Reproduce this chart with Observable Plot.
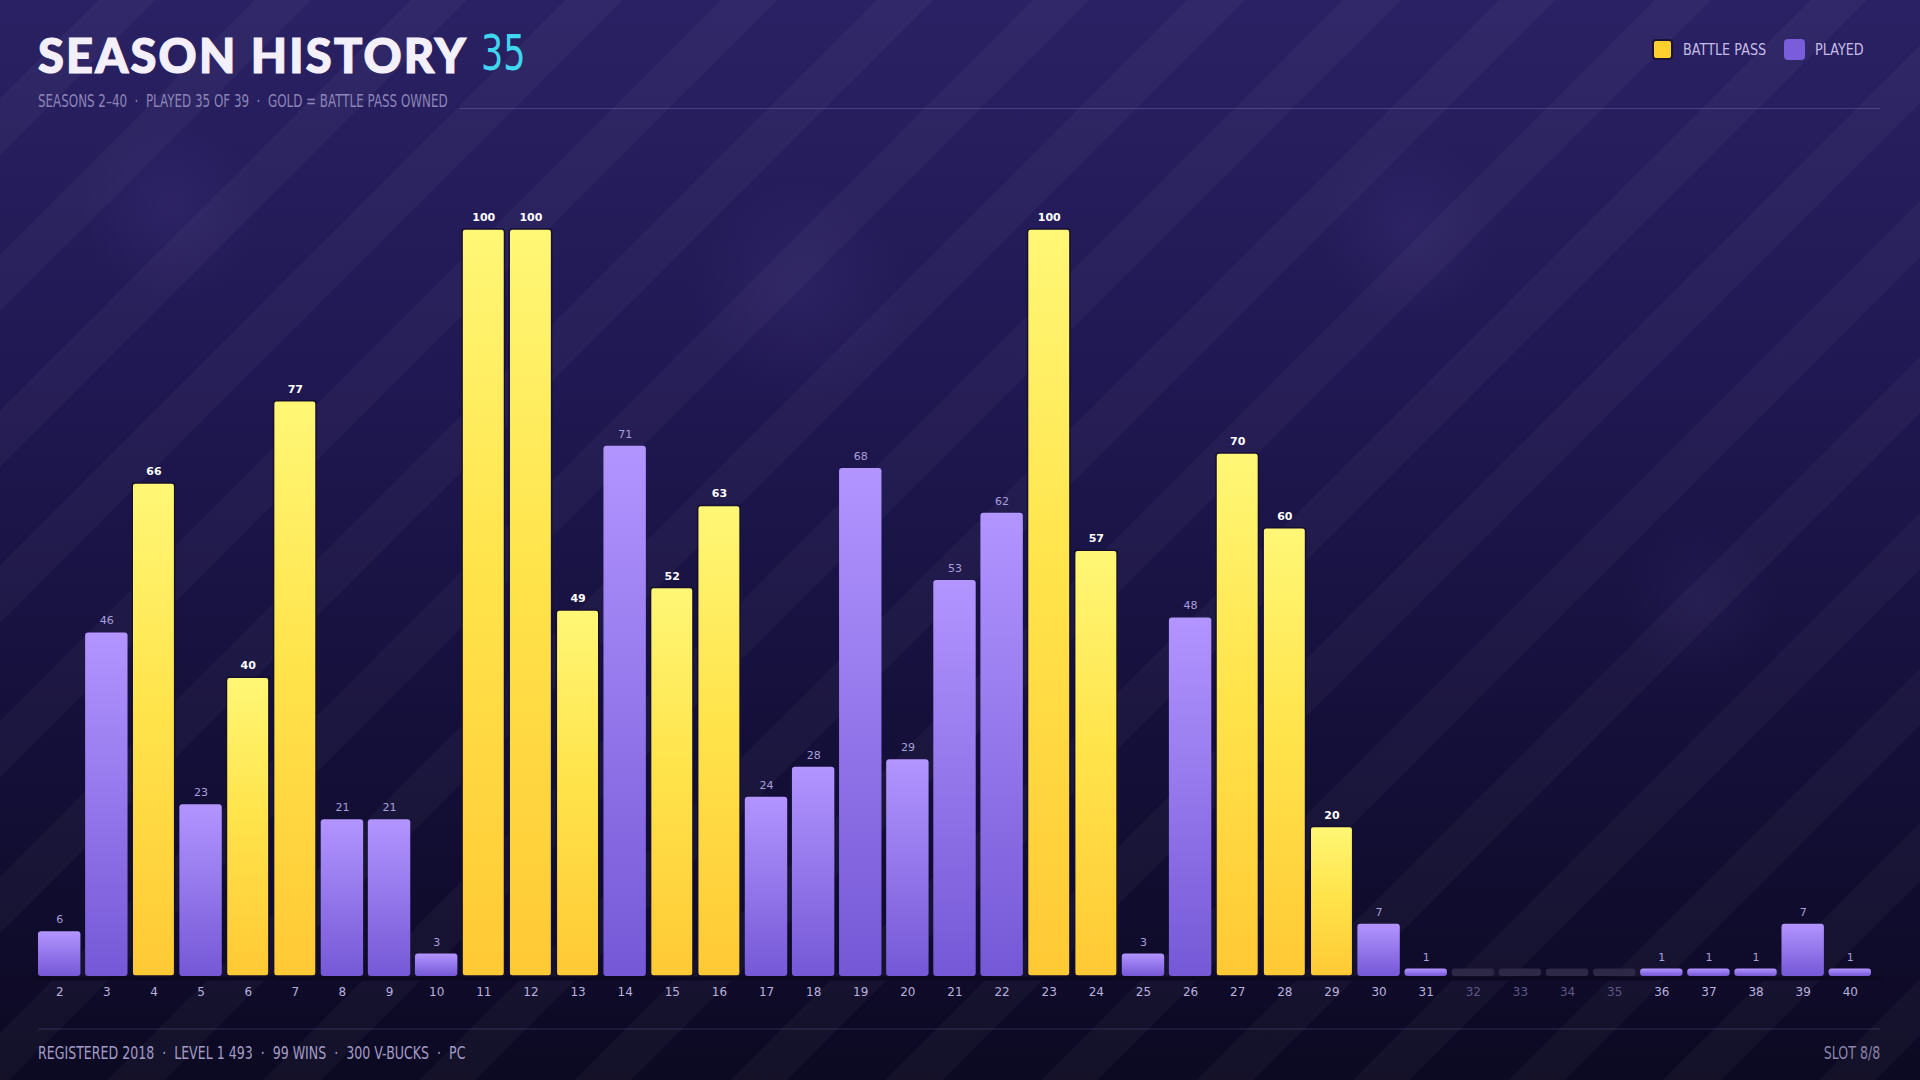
<!DOCTYPE html>
<html><head><meta charset="utf-8">
<script src="https://cdn.jsdelivr.net/npm/d3@7"></script>
<script src="https://cdn.jsdelivr.net/npm/@observablehq/plot@0.6"></script>
<style>
html,body{margin:0;padding:0;}
body{width:1920px;height:1080px;overflow:hidden;position:relative;
  font-family:"DejaVu Sans",sans-serif;
  background:
    radial-gradient(circle at 170px 210px, rgba(120,100,200,0.10) 0, rgba(120,100,200,0) 90px),
    radial-gradient(circle at 800px 290px, rgba(120,100,200,0.10) 0, rgba(120,100,200,0) 110px),
    radial-gradient(circle at 1410px 230px, rgba(120,100,200,0.10) 0, rgba(120,100,200,0) 90px),
    radial-gradient(circle at 1700px 600px, rgba(120,100,200,0.07) 0, rgba(120,100,200,0) 80px),
    repeating-linear-gradient(135deg, rgba(255,255,255,0) 0px, rgba(255,255,255,0) 70px, rgba(255,255,255,0.03) 70px, rgba(255,255,255,0.03) 110px),
    linear-gradient(180deg, #2a2164 0%, #201852 35%, #140f38 70%, #0c0922 100%);
}
.cond{font-family:"DejaVu Sans",sans-serif;display:inline-block;white-space:nowrap;}
#title{position:absolute;left:38px;top:30px;font-family:"Lato","DejaVu Sans",sans-serif;font-weight:900;font-size:47px;line-height:50px;color:#f3f0fb;letter-spacing:2.2px;-webkit-text-stroke:1.2px #f3f0fb;}
#count{position:absolute;left:481px;top:27px;font-size:50px;line-height:52px;color:#3fd6ee;transform:scaleX(0.70);transform-origin:left center;}
#sub{position:absolute;left:38px;top:91px;font-size:17px;color:#8d85b8;line-height:20px;transform:scaleX(0.70);transform-origin:left center;}
#subline{position:absolute;top:108px;height:1px;right:40px;background:rgba(160,150,220,0.28);}
#legend{position:absolute;top:39px;left:1652px;display:flex;align-items:center;font-size:16px;color:#c5bde8;white-space:nowrap;}
#legend span{transform:scaleX(0.80);transform-origin:left center;display:inline-block;white-space:nowrap;}
.sw{width:21px;height:21px;border-radius:4px;margin-right:10px;flex:none;}
#footline{position:absolute;left:38px;top:1028px;width:1842px;height:2px;background:rgba(150,140,210,0.12);}
#foot{position:absolute;left:38px;top:1043px;font-size:17px;color:#a39cc6;transform:scaleX(0.74);transform-origin:left center;}
#slot{position:absolute;right:40px;top:1043px;font-size:17px;color:#8b84ab;transform:scaleX(0.74);transform-origin:right center;}
#chart{position:absolute;left:0;top:180px;}
</style></head>
<body>
<div id="title">SEASON HISTORY</div>
<div id="count" class="cond">35</div>
<div id="sub" class="cond">SEASONS 2–40 &nbsp;·&nbsp; PLAYED 35 OF 39 &nbsp;·&nbsp; GOLD = BATTLE PASS OWNED</div>
<div id="subline"></div>
<div id="legend">
  <div class="sw" style="background:#ffd02e;border:2px solid #1c1236;box-sizing:border-box;"></div><span style="width:101px">BATTLE PASS</span>
  <div class="sw" style="background:#7a5ddb;"></div><span>PLAYED</span>
</div>
<div id="chart"></div>
<div id="footline"></div>
<div id="foot" class="cond">REGISTERED 2018 &nbsp;·&nbsp; LEVEL 1 493 &nbsp;·&nbsp; 99 WINS &nbsp;·&nbsp; 300 V-BUCKS &nbsp;·&nbsp; PC</div>
<div id="slot" class="cond">SLOT 8/8</div>
<script>
const seasons = [2,3,4,5,6,7,8,9,10,11,12,13,14,15,16,17,18,19,20,21,22,23,24,25,26,27,28,29,30,31,32,33,34,35,36,37,38,39,40];
const values  = [6,46,66,23,40,77,21,21,3,100,100,49,71,52,63,24,28,68,29,53,62,100,57,3,48,70,60,20,7,1,0,0,0,0,1,1,1,7,1];
const battlePass = [4,6,7,11,12,13,15,16,23,24,27,28,29];
const STUB = 1; // stub height shown for seasons not played

const data = seasons.map((s, i) => ({
  season: String(s),
  value: values[i],
  bp: battlePass.includes(s),
  played: values[i] > 0
}));

const chart = Plot.plot({
  width: 1920, height: 836,
  marginTop: 49, marginBottom: 40, marginLeft: 38, marginRight: 49,
  style: {background: "transparent", fontFamily: '"DejaVu Sans",sans-serif', overflow: "visible"},
  x: {domain: data.map(d => d.season), paddingInner: 0.1, paddingOuter: 0, round: false, axis: null},
  y: {domain: [0, 100], axis: null},
  color: {type: "identity"},
  marks: [
    Plot.ruleY([0], {stroke: "#0b0820", strokeWidth: 4, dy: 2, insetLeft: -2, insetRight: -10}),
    Plot.barY(data, {
      x: "season",
      y: d => d.played ? d.value : STUB,
      fill: d => d.bp ? "url(#goldGrad)" : d.played ? "url(#purpleGrad)" : "#2d2846",
      stroke: d => d.bp ? "#150f2e" : "none",
      strokeWidth: 1.5,
      rx: 3
    }),
    Plot.text(data.filter(d => d.played && d.bp), {
      x: "season", y: "value", text: d => String(d.value),
      dy: -12, fill: "#ffffff", fontSize: 11, fontWeight: "bold"
    }),
    Plot.text(data.filter(d => d.played && !d.bp), {
      x: "season", y: "value", text: d => String(d.value),
      dy: -12, fill: "#a99fdc", fontSize: 11
    }),
    Plot.text(data, {
      x: "season", frameAnchor: "bottom", text: "season",
      dy: 16, lineAnchor: "middle",
      fill: d => d.played ? "#b9b1df" : "#5d5785", fontSize: 12
    })
  ]
});

const svg = d3.select(chart);
const defs = svg.insert("defs", ":first-child");
const g1 = defs.append("linearGradient").attr("id", "goldGrad").attr("x1", 0).attr("y1", 0).attr("x2", 0).attr("y2", 1);
g1.append("stop").attr("offset", "0%").attr("stop-color", "#fff776");
g1.append("stop").attr("offset", "45%").attr("stop-color", "#ffe44c");
g1.append("stop").attr("offset", "100%").attr("stop-color", "#ffc934");
const g2 = defs.append("linearGradient").attr("id", "purpleGrad").attr("x1", 0).attr("y1", 0).attr("x2", 0).attr("y2", 1);
g2.append("stop").attr("offset", "0%").attr("stop-color", "#b295ff");
g2.append("stop").attr("offset", "100%").attr("stop-color", "#7558d6");

document.getElementById("chart").appendChild(chart);

const subRect = document.getElementById("sub").getBoundingClientRect();
document.getElementById("subline").style.left = (subRect.right + 12) + "px";
</script>
</body></html>
